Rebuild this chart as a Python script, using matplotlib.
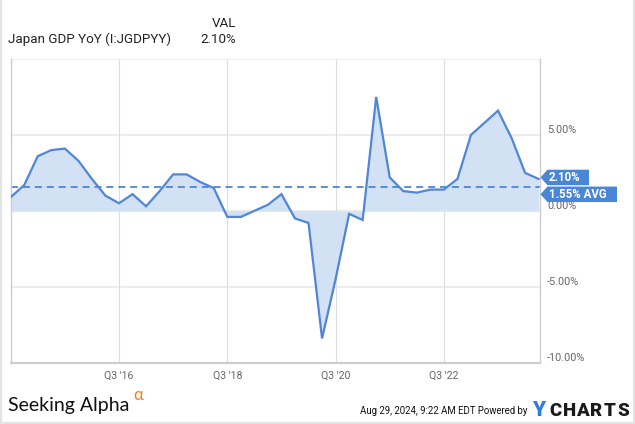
import matplotlib.pyplot as plt
import matplotlib.patches as mpatches
from matplotlib.lines import Line2D
import numpy as np
import pandas as pd

plt.rcParams['font.family'] = ['Roboto', 'DejaVu Sans']

W, H = 635, 424

# quarterly Japan GDP YoY (%), Q3 2014 .. Q2 2024
quarters = pd.period_range('2014Q3', '2024Q2', freq='Q')
gdp_yoy = [0.9, 1.7, 3.6, 4.0, 4.1, 3.3, 2.1, 1.0, 0.5, 1.1,
           0.3, 1.3, 2.4, 2.4, 1.9, 1.5, -0.4, -0.4, 0.0, 0.4,
           1.1, -0.5, -0.8, -8.4, -4.5, -0.2, -0.6, 7.5, 2.2, 1.3,
           1.2, 1.4, 1.4, 2.1, 5.0, 5.8, 6.6, 4.8, 2.5, 2.1]
avg_val = 1.55
last_val = 2.10

y_grid = [-10, -5, 0, 5, 10]
y_ticks = [-10, -5, 0, 5]
y_tick_labels = ['-10.00%', '-5.00%', '0.00%', '5.00%']
x_tick_quarters = ['2016Q3', '2018Q3', '2020Q3', '2022Q3']
x_tick_labels = ["Q3 '16", "Q3 '18", "Q3 '20", "Q3 '22"]

blue = '#4f86d8'
fill_blue = '#d3e1f4'
box_blue = '#4a86d6'


def fx(px):
    return px / W


def fy(py):
    return 1 - py / H


fig = plt.figure(figsize=(W / 100, H / 100), dpi=100)
ax = fig.add_axes([fx(10.7), fy(362.7), (540 - 10.7) / W, (362.7 - 59) / H])

x = np.arange(len(quarters))
q_str = [str(q) for q in quarters]
tick_pos = [q_str.index(q) for q in x_tick_quarters]

ax.set_xlim(0, 39.1)
ax.set_ylim(-10, 10)

for g in y_grid:
    ax.axhline(g, color='#ececec', lw=1.5, zorder=0)
for t in tick_pos:
    ax.axvline(t, color='#dddddd', lw=0.8, zorder=0)

ax.fill_between(x, gdp_yoy, 0, color=fill_blue, lw=0, zorder=1)
ax.plot(x, gdp_yoy, color=blue, lw=1.6, zorder=3, solid_joinstyle='miter')
ax.axhline(avg_val, color=blue, lw=1.3, ls=(0, (3.9, 2.7)), zorder=2)

ax.spines['top'].set_visible(False)
for s in ['left', 'right', 'bottom']:
    ax.spines[s].set_color('#cccccc')
ax.spines['bottom'].set_linewidth(1.5)
ax.spines['left'].set_linewidth(1.0)
ax.spines['right'].set_linewidth(1.0)

ax.set_yticks([])
ax.set_xticks(tick_pos)
ax.set_xticklabels(x_tick_labels, color='#666666', fontsize=7.6)
ax.tick_params(axis='x', length=0, pad=6)

for v, lab in zip(y_ticks, y_tick_labels):
    ax.text(1 + 7 / 529.3, v, lab, transform=ax.get_yaxis_transform(),
            ha='left', va='bottom', fontsize=7.8, color='#666666', clip_on=False)


def y_img(val):
    fig.canvas.draw()
    return H - ax.transData.transform((0, val))[1]


def label_box(yc, x_right, text):
    x0 = 540.5
    h = 15.5
    pts = [(x0, yc), (x0 + 7, yc - h / 2), (x_right, yc - h / 2),
           (x_right, yc + h / 2), (x0 + 7, yc + h / 2)]
    poly = mpatches.Polygon([(fx(a), fy(b)) for a, b in pts], closed=True,
                            transform=fig.transFigure, facecolor=box_blue,
                            edgecolor='none', zorder=10)
    fig.add_artist(poly)
    fig.text(fx(x0 + 8.5), fy(yc), text, color='white', fontsize=8.3,
             fontweight='bold', va='center', ha='left', zorder=11)


label_box(y_img(last_val) - 1.5, 589, f'{last_val:.2f}%')
label_box(y_img(avg_val) + 7, 617, f'{avg_val:.2f}% AVG')

# header
fig.text(fx(8), fy(39.5), 'Japan GDP YoY (I:JGDPYY)', fontsize=9.6,
         color='#222222', va='center', ha='left')
fig.text(fx(236), fy(23.5), 'VAL', fontsize=9.6, color='#222222',
         va='center', ha='right')
fig.text(fx(236), fy(39.5), f'{last_val:.2f}%', fontsize=9.6,
         color='#222222', va='center', ha='right')

# footer
fig.text(fx(8), fy(406), 'Seeking Alpha', fontsize=14, color='#111111',
         va='center', ha='left', family=['Lato', 'DejaVu Sans'])
fig.text(fx(133), fy(395), 'α', fontsize=12, color='#f07d1a',
         va='center', ha='left', family=['Lato', 'DejaVu Sans'])
fig.text(fx(527), fy(411), 'Aug 29, 2024, 9:22 AM EDT Powered by',
         fontsize=6.9, color='#111111', va='center', ha='right')
fig.text(fx(538.5), fy(410.5), 'Y', fontsize=15, color='#2a7de1',
         fontweight='heavy', va='center', ha='center')
for i, ch in enumerate('CHARTS'):
    fig.text(fx(555.5 + 13.6 * i), fy(410.5), ch, fontsize=13.5,
             color='#1a1a1a', fontweight='heavy', va='center', ha='center')

# light frame around the image
for xs, ys in [([1, 1], [0, 423]), ([634, 634], [0, 423]), ([0, 635], [422.5, 422.5])]:
    fig.add_artist(Line2D([fx(a) for a in xs], [fy(b) for b in ys],
                          color='#e3e3e3', lw=1.5, transform=fig.transFigure))

fig.savefig('out.png', dpi=100, facecolor='white')
